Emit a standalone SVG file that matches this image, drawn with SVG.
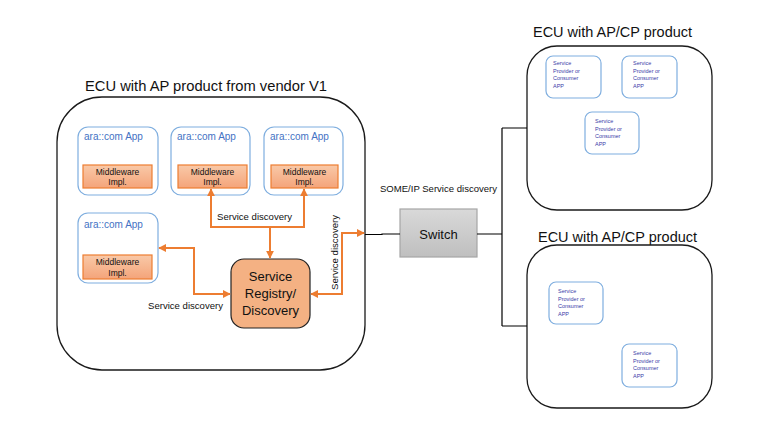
<svg xmlns="http://www.w3.org/2000/svg" width="764" height="426" viewBox="0 0 764 426">
<defs>
<linearGradient id="mw" x1="0" y1="0" x2="0" y2="1"><stop offset="0" stop-color="#F9C9A8"/><stop offset="1" stop-color="#F4A47A"/></linearGradient>
<linearGradient id="sw" x1="0" y1="0" x2="0" y2="1"><stop offset="0" stop-color="#D9D9D9"/><stop offset="1" stop-color="#BFBFBF"/></linearGradient>
<marker id="ah" viewBox="0 0 10 10" refX="9" refY="5" markerWidth="4" markerHeight="4" orient="auto-start-reverse"><path d="M0,0 L10,5 L0,10 z" fill="#ED7D31"/></marker>
</defs>
<style>
text{font-family:"Liberation Sans",Arial,sans-serif}
.ecu{fill:#fff;stroke:#1a1a1a;stroke-width:1.3}
.title{font-family:"Liberation Sans",Arial,sans-serif;font-size:15px;fill:#111}
.app{fill:#fff;stroke:#7FAEDF;stroke-width:1.2}
.apptx{font-size:10px;fill:#4472C4}
.mw{fill:url(#mw);stroke:#ED7D31;stroke-width:1.2}
.mwtx{font-size:8.5px;fill:#111;text-anchor:middle}
.sp{font-size:5.5px;fill:#3B3BA8}
.lbl{font-size:9.4px;fill:#111}
.oc{fill:none;stroke:#ED7D31;stroke-width:2}
.bk{fill:none;stroke:#000;stroke-width:1.2}
</style>
<rect width="764" height="426" fill="#fff"/>

<g id="ecu-v1">
<text class="title" x="85" y="91" textLength="242" lengthAdjust="spacingAndGlyphs">ECU with AP product from vendor V1</text>
<rect class="ecu" x="57" y="97" width="308" height="273" rx="45"/>
</g>
<g id="app1">
<rect class="app" x="78" y="127" width="80" height="68" rx="10"/>
<text class="apptx" x="84" y="140">ara::com App</text>
<rect class="mw" x="83" y="165" width="69" height="23"/>
<text class="mwtx" x="117.5" y="175">Middleware</text><text class="mwtx" x="117.5" y="185">Impl.</text>
</g>
<g id="app2">
<rect class="app" x="171" y="127" width="79" height="68" rx="10"/>
<text class="apptx" x="177" y="140">ara::com App</text>
<rect class="mw" x="178" y="165" width="69" height="23"/>
<text class="mwtx" x="212.5" y="175">Middleware</text><text class="mwtx" x="212.5" y="185">Impl.</text>
</g>
<g id="app3">
<rect class="app" x="264" y="127" width="79" height="68" rx="10"/>
<text class="apptx" x="270" y="140">ara::com App</text>
<rect class="mw" x="271" y="165" width="67" height="23"/>
<text class="mwtx" x="304.5" y="175">Middleware</text><text class="mwtx" x="304.5" y="185">Impl.</text>
</g>
<g id="app4">
<rect class="app" x="78" y="213" width="80" height="70" rx="10"/>
<text class="apptx" x="84" y="228">ara::com App</text>
<rect class="mw" x="83" y="255" width="69" height="24"/>
<text class="mwtx" x="117.5" y="265">Middleware</text><text class="mwtx" x="117.5" y="276">Impl.</text>
</g>
<g id="registry">
<rect x="231" y="259" width="79" height="69" rx="13" fill="#F4B183" stroke="#222" stroke-width="1.2"/>
<text x="270.5" y="281" font-size="13" text-anchor="middle" fill="#111">Service</text>
<text x="270.5" y="298" font-size="13" text-anchor="middle" fill="#111">Registry/</text>
<text x="270.5" y="315" font-size="13" text-anchor="middle" fill="#111">Discovery</text>
</g>
<g id="switch">
<rect x="400" y="209" width="77" height="48" fill="url(#sw)" stroke="#A6A6A6" stroke-width="1.2"/>
<text x="438.5" y="238.5" font-size="13" text-anchor="middle" fill="#111">Switch</text>
</g>
<g id="ecu-cp1">
<text class="title" x="533" y="37" textLength="159" lengthAdjust="spacingAndGlyphs">ECU with AP/CP product</text>
<rect class="ecu" x="527" y="46" width="185" height="164" rx="30"/>
<rect class="app" x="546" y="56" width="55" height="42" rx="7"/>
<text class="sp" x="553" y="65">Service</text><text class="sp" x="553" y="72.5">Provider or</text><text class="sp" x="553" y="80">Consumer</text><text class="sp" x="553" y="87.5">APP</text>
<rect class="app" x="622" y="56" width="55" height="42" rx="7"/>
<text class="sp" x="633" y="65">Service</text><text class="sp" x="633" y="72.5">Provider or</text><text class="sp" x="633" y="80">Consumer</text><text class="sp" x="633" y="87.5">APP</text>
<rect class="app" x="585" y="112" width="54" height="42" rx="7"/>
<text class="sp" x="595" y="123">Service</text><text class="sp" x="595" y="130.5">Provider or</text><text class="sp" x="595" y="138">Consumer</text><text class="sp" x="595" y="145.5">APP</text>
</g>
<g id="ecu-cp2">
<text class="title" x="538" y="242" textLength="159" lengthAdjust="spacingAndGlyphs">ECU with AP/CP product</text>
<rect class="ecu" x="527" y="245" width="185" height="163" rx="30"/>
<rect class="app" x="549" y="282" width="54" height="42" rx="7"/>
<text class="sp" x="558" y="293">Service</text><text class="sp" x="558" y="300.5">Provider or</text><text class="sp" x="558" y="308">Consumer</text><text class="sp" x="558" y="315.5">APP</text>
<rect class="app" x="622" y="344" width="55" height="43" rx="7"/>
<text class="sp" x="633" y="355">Service</text><text class="sp" x="633" y="362.5">Provider or</text><text class="sp" x="633" y="370">Consumer</text><text class="sp" x="633" y="377.5">APP</text>
</g>

<g id="connectors">
<path class="oc" d="M211,189 V227 H304 V189" marker-start="url(#ah)" marker-end="url(#ah)"/>
<path class="oc" d="M270,227 V258" marker-end="url(#ah)"/>
<path class="oc" d="M159,248 H194 V294 H230" marker-start="url(#ah)" marker-end="url(#ah)"/>
<path class="oc" d="M311,294 H342 V233 H364" marker-start="url(#ah)" marker-end="url(#ah)"/>
<path class="bk" d="M365,234.5 H382 V234 H400"/>
<path class="bk" d="M477,234 H502 M502,128 V326 M502,128 H527 M502,326 H527"/>
<text class="lbl" x="217" y="220" textLength="75" lengthAdjust="spacingAndGlyphs">Service discovery</text>
<text class="lbl" x="148" y="309" textLength="75" lengthAdjust="spacingAndGlyphs">Service discovery</text>
<text class="lbl" transform="translate(338,290) rotate(-90)" textLength="75" lengthAdjust="spacingAndGlyphs">Service discovery</text>
<text class="lbl" x="380" y="192" textLength="117" lengthAdjust="spacingAndGlyphs">SOME/IP Service discovery</text>
</g>
</svg>
